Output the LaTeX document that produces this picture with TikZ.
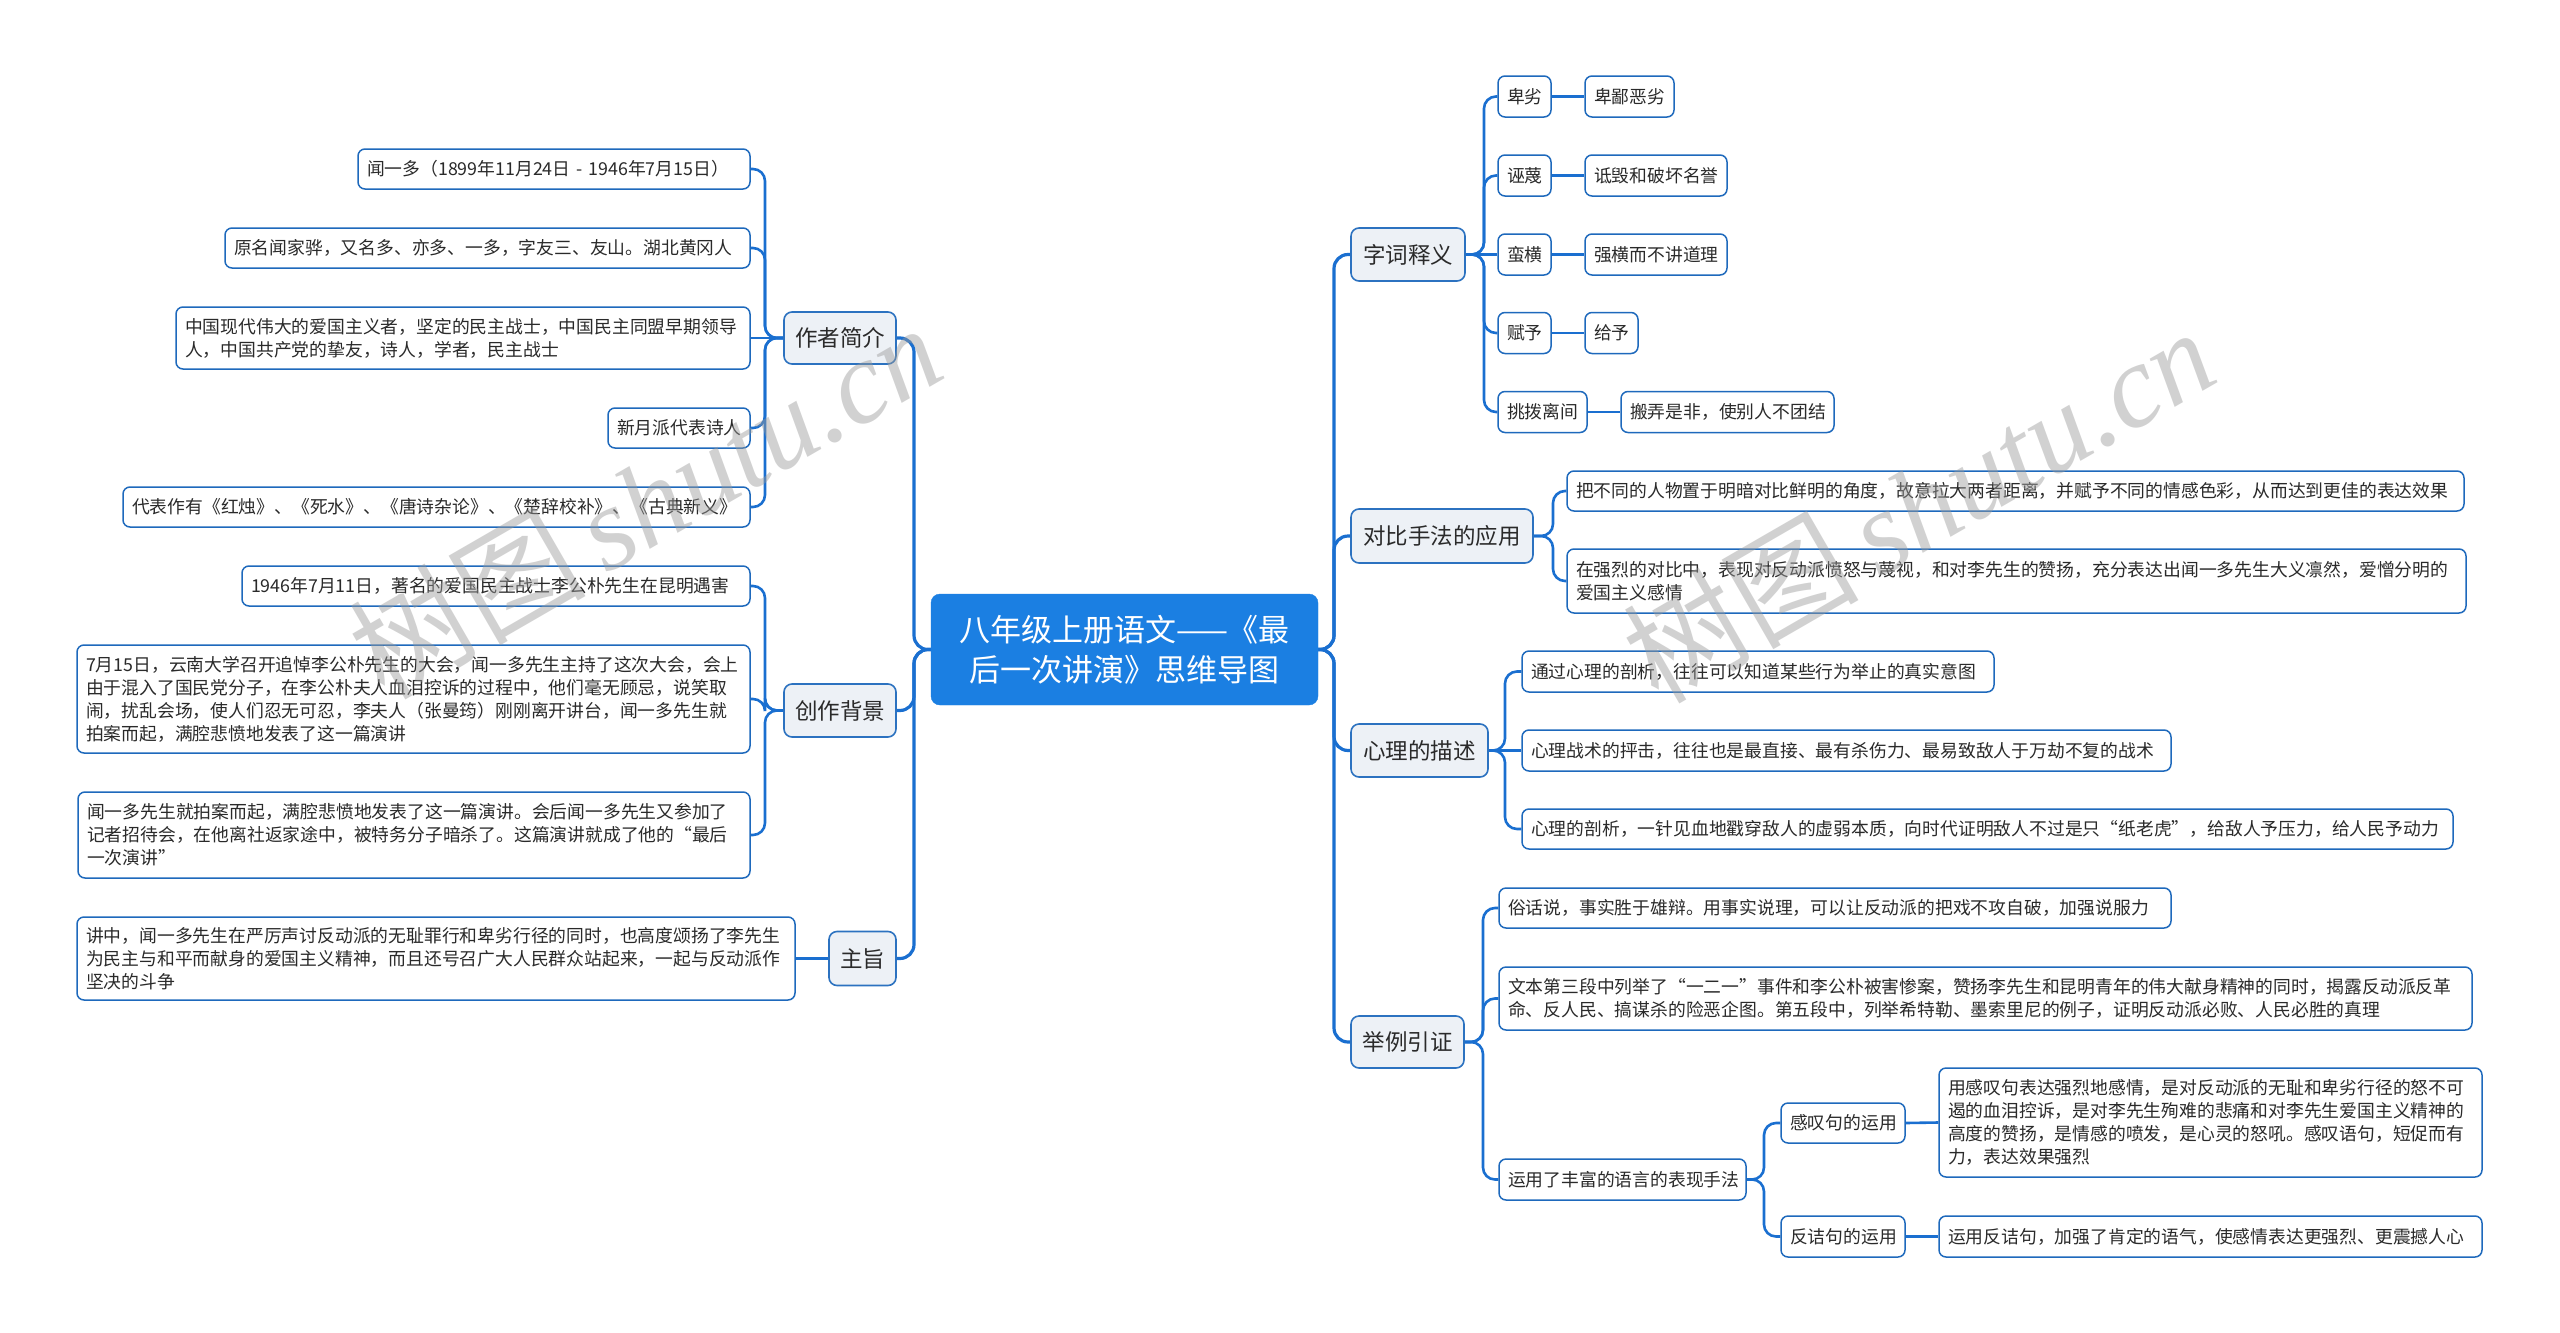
\documentclass[tikz,border=0pt]{standalone}
\usepackage{fontspec}
\newfontfamily\cjk{Noto Sans CJK SC}
\newfontfamily\wmserif{Liberation Serif}
\usetikzlibrary{calc}
\definecolor{rootblue}{HTML}{1B7FE2}
\definecolor{connblue}{HTML}{1A6FD0}
\definecolor{mainfill}{HTML}{EDF1F6}
\definecolor{mainborder}{HTML}{2C72C0}
\definecolor{leafborder}{HTML}{1E69BC}
\definecolor{textcol}{HTML}{2A2A2A}
\definecolor{wmgray}{HTML}{9A9A9A}
\pgfdeclarelayer{background}
\pgfsetlayers{background,main}
\newcommand\linkR[4]{\draw[#1] (#2.east) -- (#4 |- #2.east) |- (#3.west);}
\newcommand\linkL[4]{\draw[#1] (#2.west) -- (#4 |- #2.west) |- (#3.east);}
\begin{document}
\begin{tikzpicture}[x=1pt,y=-1pt,
  root/.style={fill=rootblue, draw=rootblue, rounded corners=9pt, text=white,
    font=\cjk\fontsize{31}{40}\selectfont, align=center, inner sep=0pt},
  mainnode/.style={fill=mainfill, draw=mainborder, line width=1.6pt, rounded corners=8pt,
    text=textcol, font=\cjk\fontsize{22.5}{27}\selectfont, align=center, inner sep=0pt},
  leaf/.style={fill=white, draw=leafborder, line width=1.5pt, rounded corners=7pt,
    text=textcol, font=\cjk\fontsize{17.8}{23}\selectfont, align=left, inner xsep=9pt, inner ysep=0pt},
  conn/.style={draw=connblue, line width=3.2pt, rounded corners=14pt},
  subconn/.style={draw=connblue, line width=2.6pt, rounded corners=12pt},
  wm/.style={text=wmgray, opacity=0.45, rotate=30, inner sep=0pt}
]
\begin{pgfonlayer}{background}
\fill[white] (0,0) rectangle (2560,1333);
\end{pgfonlayer}
\useasboundingbox (0,0) rectangle (2560,1333);

% root
\node[root, text width=387pt, minimum height=111pt] (root) at (1124.5,649.5) {八年级上册语文——《最\\后一次讲演》思维导图};

% main branches
\node[mainnode, text width=112pt, minimum height=52pt] (A) at (840,338) {作者简介};
\node[mainnode, text width=112pt, minimum height=53pt] (B) at (840,710.5) {创作背景};
\node[mainnode, text width=67pt, minimum height=54pt] (C) at (862.5,958.5) {主旨};
\node[mainnode, text width=114pt, minimum height=53pt] (D) at (1408,254.5) {字词释义};
\node[mainnode, text width=182pt, minimum height=54pt] (E) at (1442,536) {对比手法的应用};
\node[mainnode, text width=137pt, minimum height=53pt] (F) at (1419.5,750.5) {心理的描述};
\node[mainnode, text width=113pt, minimum height=52pt] (G) at (1407.5,1042) {举例引证};

% A leaves
\node[leaf, text width=374pt, minimum height=40pt] (a1) at (554,169) {闻一多（1899年11月24日~-~1946年7月15日）};
\node[leaf, text width=507pt, minimum height=40pt] (a2) at (487.5,248) {原名闻家骅，又名多、亦多、一多，字友三、友山。湖北黄冈人};
\node[leaf, text width=556pt, minimum height=62pt] (a3) at (463,338) {中国现代伟大的爱国主义者，坚定的民主战士，中国民主同盟早期领导\\人，中国共产党的挚友，诗人，学者，民主战士};
\node[leaf, text width=124pt, minimum height=40pt] (a4) at (679,428) {新月派代表诗人};
\node[leaf, text width=609pt, minimum height=40pt] (a5) at (436.5,507) {代表作有《红烛》、《死水》、《唐诗杂论》、《楚辞校补》、《古典新义》};

% B leaves
\node[leaf, text width=490pt, minimum height=40pt] (b1) at (496,586) {1946年7月11日，著名的爱国民主战士李公朴先生在昆明遇害};
\node[leaf, text width=655pt, minimum height=108pt] (b2) at (413.5,699) {7月15日，云南大学召开追悼李公朴先生的大会，闻一多先生主持了这次大会，会上\\由于混入了国民党分子，在李公朴夫人血泪控诉的过程中，他们毫无顾忌，说笑取\\闹，扰乱会场，使人们忍无可忍，李夫人（张曼筠）刚刚离开讲台，闻一多先生就\\拍案而起，满腔悲愤地发表了这一篇演讲};
\node[leaf, text width=654pt, minimum height=86pt] (b3) at (414,835) {闻一多先生就拍案而起，满腔悲愤地发表了这一篇演讲。会后闻一多先生又参加了\\记者招待会，在他离社返家途中，被特务分子暗杀了。这篇演讲就成了他的“最后\\一次演讲”};

% C leaf
\node[leaf, text width=700pt, minimum height=83pt] (c1) at (436,958.5) {讲中，闻一多先生在严厉声讨反动派的无耻罪行和卑劣行径的同时，也高度颂扬了李先生\\为民主与和平而献身的爱国主义精神，而且还号召广大人民群众站起来，一起与反动派作\\坚决的斗争};

% D leaves
\node[leaf, text width=35pt, minimum height=41pt] (d1) at (1524.5,96.5) {卑劣};
\node[leaf, text width=71pt, minimum height=41pt] (d1b) at (1629.5,96.5) {卑鄙恶劣};
\node[leaf, text width=35pt, minimum height=41pt] (d2) at (1524.5,175.5) {诬蔑};
\node[leaf, text width=124pt, minimum height=41pt] (d2b) at (1656,175.5) {诋毁和破坏名誉};
\node[leaf, text width=35pt, minimum height=41pt] (d3) at (1524.5,254.5) {蛮横};
\node[leaf, text width=124pt, minimum height=41pt] (d3b) at (1656,254.5) {强横而不讲道理};
\node[leaf, text width=35pt, minimum height=41pt] (d4) at (1524.5,333) {赋予};
\node[leaf, text width=35pt, minimum height=41pt] (d4b) at (1611.5,333) {给予};
\node[leaf, text width=71pt, minimum height=41pt] (d5) at (1542.5,412) {挑拨离间};
\node[leaf, text width=195pt, minimum height=41pt] (d5b) at (1727.5,412) {搬弄是非，使别人不团结};

% E leaves
\node[leaf, text width=879pt, minimum height=40pt] (e1) at (2015.5,491) {把不同的人物置于明暗对比鲜明的角度，故意拉大两者距离，并赋予不同的情感色彩，从而达到更佳的表达效果};
\node[leaf, text width=881pt, minimum height=64pt] (e2) at (2016.5,581) {在强烈的对比中，表现对反动派愤怒与蔑视，和对李先生的赞扬，充分表达出闻一多先生大义凛然，爱憎分明的\\爱国主义感情};

% F leaves
\node[leaf, text width=454pt, minimum height=41pt] (f1) at (1758,671.5) {通过心理的剖析，往往可以知道某些行为举止的真实意图};
\node[leaf, text width=631pt, minimum height=41pt] (f2) at (1846.5,750.5) {心理战术的抨击，往往也是最直接、最有杀伤力、最易致敌人于万劫不复的战术};
\node[leaf, text width=913pt, minimum height=40pt] (f3) at (1987.5,829) {心理的剖析，一针见血地戳穿敌人的虚弱本质，向时代证明敌人不过是只“纸老虎”，给敌人予压力，给人民予动力};

% G leaves
\node[leaf, text width=654pt, minimum height=40pt] (g1) at (1835,908) {俗话说，事实胜于雄辩。用事实说理，可以让反动派的把戏不攻自破，加强说服力};
\node[leaf, text width=955pt, minimum height=63pt] (g2) at (1985.5,998.5) {文本第三段中列举了“一二一”事件和李公朴被害惨案，赞扬李先生和昆明青年的伟大献身精神的同时，揭露反动派反革\\命、反人民、搞谋杀的险恶企图。第五段中，列举希特勒、墨索里尼的例子，证明反动派必败、人民必胜的真理};
\node[leaf, text width=229pt, minimum height=41pt] (g3) at (1622.5,1179.5) {运用了丰富的语言的表现手法};
\node[leaf, text width=106pt, minimum height=40pt] (g31) at (1843,1123) {感叹句的运用};
\node[leaf, text width=525pt, minimum height=109pt] (g31b) at (2210.5,1122.5) {用感叹句表达强烈地感情，是对反动派的无耻和卑劣行径的怒不可\\遏的血泪控诉，是对李先生殉难的悲痛和对李先生爱国主义精神的\\高度的赞扬，是情感的喷发，是心灵的怒吼。感叹语句，短促而有\\力，表达效果强烈};
\node[leaf, text width=106pt, minimum height=41pt] (g32) at (1843,1236.5) {反诘句的运用};
\node[leaf, text width=525pt, minimum height=41pt] (g32b) at (2210.5,1236.5) {运用反诘句，加强了肯定的语气，使感情表达更强烈、更震撼人心};

% trunk positions
\coordinate (tL) at (914,0);
\coordinate (tR) at (1334,0);
\coordinate (tA) at (765,0);
\coordinate (tD) at (1484,0);
\coordinate (tE) at (1553,0);
\coordinate (tF) at (1505,0);
\coordinate (tG) at (1483,0);
\coordinate (tG3) at (1764,0);

\begin{pgfonlayer}{background}
% root connectors
\linkL{conn}{root}{A}{tL}
\linkL{conn}{root}{B}{tL}
\linkL{conn}{root}{C}{tL}
\linkR{conn}{root}{D}{tR}
\linkR{conn}{root}{E}{tR}
\linkR{conn}{root}{F}{tR}
\linkR{conn}{root}{G}{tR}
% A
\linkL{subconn}{A}{a1}{tA}
\linkL{subconn}{A}{a2}{tA}
\draw[subconn] (A.west) -- (a3.east);
\linkL{subconn}{A}{a4}{tA}
\linkL{subconn}{A}{a5}{tA}
% B
\linkL{subconn}{B}{b1}{tA}
\linkL{subconn}{B}{b2}{tA}
\linkL{subconn}{B}{b3}{tA}
% C
\draw[subconn] (C.west) -- (c1.east);
% D
\linkR{subconn}{D}{d1}{tD}
\linkR{subconn}{D}{d2}{tD}
\draw[subconn] (D.east) -- (d3.west);
\linkR{subconn}{D}{d4}{tD}
\linkR{subconn}{D}{d5}{tD}
\draw[subconn] (d1.east) -- (d1b.west);
\draw[subconn] (d2.east) -- (d2b.west);
\draw[subconn] (d3.east) -- (d3b.west);
\draw[subconn] (d4.east) -- (d4b.west);
\draw[subconn] (d5.east) -- (d5b.west);
% E
\linkR{subconn}{E}{e1}{tE}
\linkR{subconn}{E}{e2}{tE}
% F
\linkR{subconn}{F}{f1}{tF}
\draw[subconn] (F.east) -- (f2.west);
\linkR{subconn}{F}{f3}{tF}
% G
\linkR{subconn}{G}{g1}{tG}
\linkR{subconn}{G}{g2}{tG}
\linkR{subconn}{G}{g3}{tG}
\linkR{subconn}{g3}{g31}{tG3}
\linkR{subconn}{g3}{g32}{tG3}
\draw[subconn] (g31.east) -- (g31b.west);
\draw[subconn] (g32.east) -- (g32b.west);
\end{pgfonlayer}

% watermarks
\node[wm] (wm1) at (645,500) {\cjk\fontsize{118}{122}\selectfont 树图\,\wmserif\itshape shutu.cn};
\node[wm] (wm2) at (1918,504) {\cjk\fontsize{118}{122}\selectfont 树图\,\wmserif\itshape shutu.cn};
\end{tikzpicture}
\end{document}
